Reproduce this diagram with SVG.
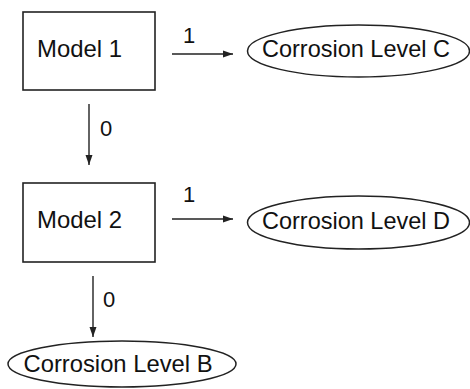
<svg xmlns="http://www.w3.org/2000/svg" width="470" height="389" viewBox="0 0 470 389">
<style>
.box{fill:#fff;stroke:#222;stroke-width:1.6}
.ell{fill:#fff;stroke:#222;stroke-width:1.5}
.t{font-family:"Liberation Sans",Arial,sans-serif;font-size:24px;fill:#111}
.n{font-family:"Liberation Sans",Arial,sans-serif;font-size:22px;fill:#111}
.c{stroke:#222;stroke-width:1.4;fill:none}
</style>
<defs>
<marker id="ah" viewBox="0 0 10 10" refX="10" refY="5" markerWidth="10" markerHeight="10" markerUnits="userSpaceOnUse" orient="auto">
<path d="M0,1.5 L10,5 L0,8.5 Z" fill="#222"/>
</marker>
</defs>
<rect width="470" height="389" fill="#fff"/>
<g id="model1"><rect class="box" x="23" y="12" width="132" height="78"/><text class="t" x="37" y="57" textLength="85" lengthAdjust="spacingAndGlyphs">Model 1</text></g>
<g id="model2"><rect class="box" x="23" y="183" width="132" height="79"/><text class="t" x="37" y="228" textLength="85" lengthAdjust="spacingAndGlyphs">Model 2</text></g>
<g id="levelC"><ellipse class="ell" cx="358.5" cy="51" rx="111" ry="26"/><text class="t" x="356" y="57" text-anchor="middle" textLength="188" lengthAdjust="spacingAndGlyphs">Corrosion Level C</text></g>
<g id="levelD"><ellipse class="ell" cx="358.5" cy="222.5" rx="111" ry="26.5"/><text class="t" x="356" y="229" text-anchor="middle" textLength="188" lengthAdjust="spacingAndGlyphs">Corrosion Level D</text></g>
<g id="levelB"><ellipse class="ell" cx="122" cy="364" rx="114" ry="23"/><text class="t" x="118" y="372" text-anchor="middle" textLength="189" lengthAdjust="spacingAndGlyphs">Corrosion Level B</text></g>
<g id="connectors">
<line class="c" x1="172" y1="54" x2="233" y2="54" marker-end="url(#ah)"/>
<text class="n" x="183" y="43">1</text>
<line class="c" x1="89" y1="104" x2="89" y2="165" marker-end="url(#ah)"/>
<text class="n" x="100" y="136">0</text>
<line class="c" x1="172" y1="219" x2="233" y2="219" marker-end="url(#ah)"/>
<text class="n" x="183" y="202">1</text>
<line class="c" x1="93" y1="276" x2="93" y2="337" marker-end="url(#ah)"/>
<text class="n" x="103" y="307">0</text>
</g>
</svg>
